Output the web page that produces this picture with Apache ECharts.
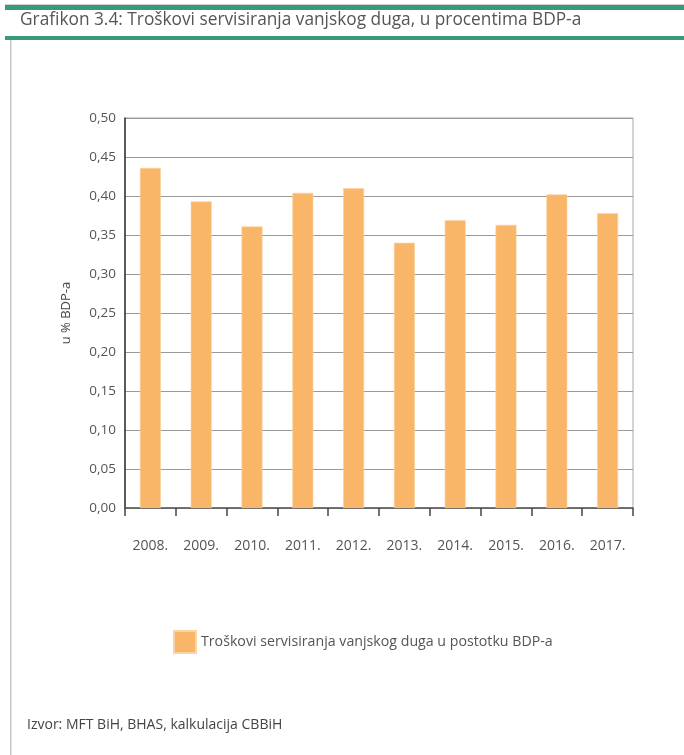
<!DOCTYPE html>
<html>
<head>
<meta charset="utf-8">
<style>
  html, body { margin: 0; padding: 0; background: #fff; }
  #chart { width: 684px; height: 755px; }
</style>
<script src="https://cdn.jsdelivr.net/npm/echarts@6/dist/echarts.min.js"></script>
</head>
<body>
<div id="chart"></div>
<script>
// Years shown on the category axis
const years = ['2008.', '2009.', '2010.', '2011.', '2012.', '2013.', '2014.', '2015.', '2016.', '2017.'];
// External debt servicing costs, % of GDP
const debtServiceCost = [0.436, 0.393, 0.361, 0.404, 0.410, 0.340, 0.369, 0.363, 0.402, 0.378];
const seriesName = 'Troškovi servisiranja vanjskog duga u postotku BDP-a';
const titleText = 'Grafikon 3.4: Troškovi servisiranja vanjskog duga, u procentima BDP-a';
const sourceText = 'Izvor: MFT BiH, BHAS, kalkulacija CBBiH';
const yAxisTitle = 'u % BDP-a';

const FONT = '"Open Sans", "Noto Sans", sans-serif';
const BAR = '#F9B668';
const GREEN = '#3A9A7E';

const chart = echarts.init(document.getElementById('chart'), null, { renderer: 'canvas' });

chart.setOption({
  animation: false,
  backgroundColor: '#fff',
  textStyle: { fontFamily: FONT },
  graphic: [
    { type: 'rect', shape: { x: 5, y: 4, width: 679, height: 1 }, style: { fill: '#cfcfcf' } },
    { type: 'rect', shape: { x: 5, y: 5, width: 679, height: 5 }, style: { fill: GREEN } },
    { type: 'rect', shape: { x: 5, y: 36, width: 679, height: 4 }, style: { fill: GREEN } },
    { type: 'rect', shape: { x: 10, y: 40, width: 1.5, height: 715 }, style: { fill: '#c8c8c8' } },
    {
      type: 'text', left: 20, top: 12,
      style: { text: titleText, fill: '#555', font: '17.3px ' + FONT }
    },
    {
      type: 'text', left: 27, top: 718,
      style: { text: sourceText, fill: '#444', font: '14px ' + FONT }
    }
  ],
  legend: {
    data: [seriesName],
    icon: 'rect',
    left: 168,
    top: 625,
    itemWidth: 22,
    itemHeight: 22,
    itemGap: 10,
    textStyle: { color: '#555', fontSize: 14.2, fontFamily: FONT }
  },
  grid: {
    left: 125, right: 51, top: 118, bottom: 247,
    show: true, borderColor: '#aaa', borderWidth: 1
  },
  xAxis: {
    type: 'category',
    data: years,
    axisLine: { lineStyle: { color: '#555', width: 1.5 } },
    axisTick: { show: true, length: 8, lineStyle: { color: '#444', width: 1.5 } },
    axisLabel: { color: '#555', fontSize: 14, margin: 31, fontFamily: FONT }
  },
  yAxis: {
    type: 'value',
    min: 0, max: 0.5, interval: 0.05,
    name: yAxisTitle,
    nameLocation: 'middle',
    nameGap: 52,
    nameTextStyle: { color: '#444', fontSize: 13, fontFamily: FONT },
    axisLine: { show: true, lineStyle: { color: '#333', width: 1.5 } },
    axisTick: { show: false },
    axisLabel: {
      color: '#555', fontSize: 13.5, margin: 9, fontFamily: FONT,
      formatter: v => v.toFixed(2).replace('.', ',')
    },
    splitLine: { lineStyle: { color: '#9a9a9a', width: 1 } }
  },
  series: [{
    name: seriesName,
    type: 'bar',
    data: debtServiceCost,
    barWidth: 21,
    itemStyle: { color: BAR, borderColor: '#FCD3A4', borderWidth: 0.6 }
  }]
});
</script>
</body>
</html>
